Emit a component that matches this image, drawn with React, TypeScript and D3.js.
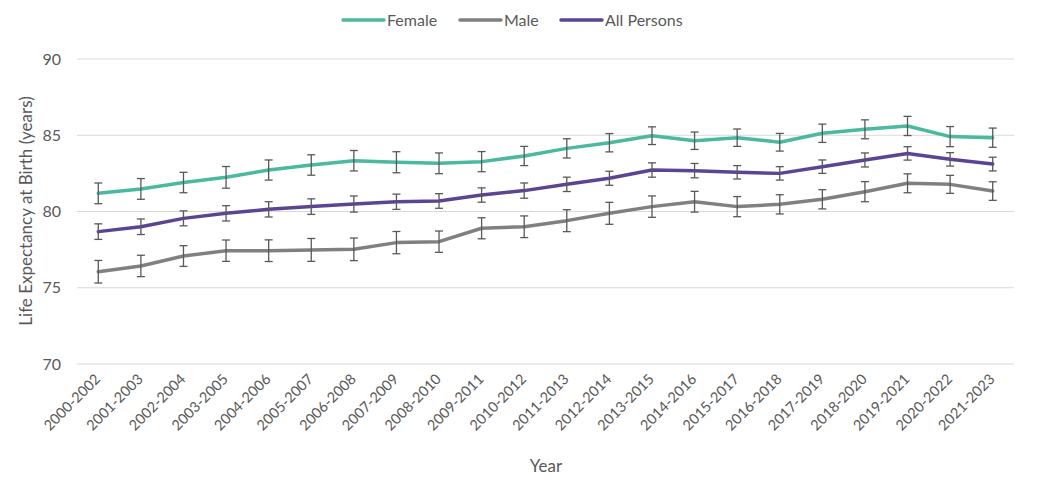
import React from "react";
import * as d3 from "d3";

const years = [
  "2000-2002","2001-2003","2002-2004","2003-2005","2004-2006","2005-2007","2006-2008","2007-2009",
  "2008-2010","2009-2011","2010-2012","2011-2013","2012-2014","2013-2015","2014-2016","2015-2017",
  "2016-2018","2017-2019","2018-2020","2019-2021","2020-2022","2021-2023",
];
const female = [81.19,81.48,81.9,82.24,82.72,83.05,83.33,83.23,83.16,83.27,83.64,84.14,84.51,84.97,84.64,84.84,84.54,85.13,85.39,85.61,84.91,84.84];
const femaleErr = [0.68,0.68,0.67,0.71,0.66,0.67,0.67,0.69,0.68,0.66,0.63,0.63,0.6,0.58,0.57,0.57,0.58,0.6,0.62,0.63,0.66,0.63];
const male = [76.05,76.43,77.08,77.43,77.43,77.48,77.52,77.96,78.02,78.9,79.0,79.4,79.88,80.32,80.64,80.32,80.47,80.8,81.3,81.85,81.78,81.34];
const maleErr = [0.74,0.7,0.68,0.7,0.71,0.75,0.74,0.73,0.7,0.69,0.71,0.72,0.72,0.7,0.68,0.66,0.63,0.63,0.66,0.62,0.59,0.61];
const all = [78.68,79.0,79.55,79.88,80.14,80.32,80.49,80.64,80.69,81.08,81.37,81.78,82.18,82.72,82.68,82.57,82.5,82.94,83.38,83.81,83.42,83.11];
const allErr = [0.51,0.51,0.49,0.5,0.5,0.51,0.53,0.5,0.48,0.47,0.5,0.47,0.46,0.47,0.47,0.44,0.44,0.44,0.46,0.44,0.44,0.45];
const yTicks = [70, 75, 80, 85, 90];

const series = [
  { name: "Female", values: female, err: femaleErr, color: "#4BB99E" },
  { name: "Male", values: male, err: maleErr, color: "#808080" },
  { name: "All Persons", values: all, err: allErr, color: "#5B4593" },
];

const W = 1041, H = 483;
const M = { left: 77, right: 1014, top: 59, bottom: 364 };
const FONT = "Lato, 'Open Sans', sans-serif";
const TEXT = "#595959";

export default function App() {
  const x = d3.scaleBand<string>().domain(years).range([M.left, M.right]);
  const y = d3.scaleLinear().domain([70, 90]).range([M.bottom, M.top]);
  const cx = (d: string) => (x(d) as number) + x.bandwidth() / 2;
  const line = d3.line<number>().x((_, i) => cx(years[i])).y((v) => y(v));

  const legendItems = [
    { name: "Female", x: 343, color: series[0].color },
    { name: "Male", x: 460, color: series[1].color },
    { name: "All Persons", x: 561, color: series[2].color },
  ];

  return (
    <svg width={W} height={H} style={{ position: "absolute", left: 0, top: 0, background: "#fff" }} fontFamily={FONT}>
      {yTicks.map((t) => (
        <g key={t}>
          <line x1={M.left} x2={M.right} y1={y(t)} y2={y(t)} stroke="#d9d9d9" strokeWidth={1} />
          <text x={61} y={y(t)} dy="0.35em" textAnchor="end" fontSize={16} fill={TEXT}>{t}</text>
        </g>
      ))}
      {years.map((yr) => (
        <text key={yr} transform={`translate(${cx(yr) + 3},${380}) rotate(-45)`} textAnchor="end" fontSize={14.5} fill={TEXT}>{yr}</text>
      ))}
      <text x={546} y={472} textAnchor="middle" fontSize={17} fill={TEXT}>Year</text>
      <text transform={`translate(32,${211}) rotate(-90)`} textAnchor="middle" fontSize={17} fill={TEXT}>Life Expectancy at Birth (years)</text>

      {series.map((s) => (
        <path key={s.name} d={line(s.values) || ""} fill="none" stroke={s.color} strokeWidth={3.5} strokeLinejoin="round" strokeLinecap="round" />
      ))}
      {series.map((s) => (
        <g key={s.name + "err"} stroke="#595959" strokeWidth={1.3}>
          {s.values.map((v, i) => {
            const px = cx(years[i]);
            const y1 = y(v + s.err[i]);
            const y2 = y(v - s.err[i]);
            return (
              <g key={i}>
                <line x1={px} x2={px} y1={y1} y2={y2} />
                <line x1={px - 4} x2={px + 4} y1={y1} y2={y1} />
                <line x1={px - 4} x2={px + 4} y1={y2} y2={y2} />
              </g>
            );
          })}
        </g>
      ))}

      {legendItems.map((l) => (
        <g key={l.name}>
          <line x1={l.x} x2={l.x + 41} y1={20} y2={20} stroke={l.color} strokeWidth={3.5} strokeLinecap="round" />
          <text x={l.x + 44} y={20} dy="0.35em" fontSize={16} fill={TEXT}>{l.name}</text>
        </g>
      ))}
    </svg>
  );
}
